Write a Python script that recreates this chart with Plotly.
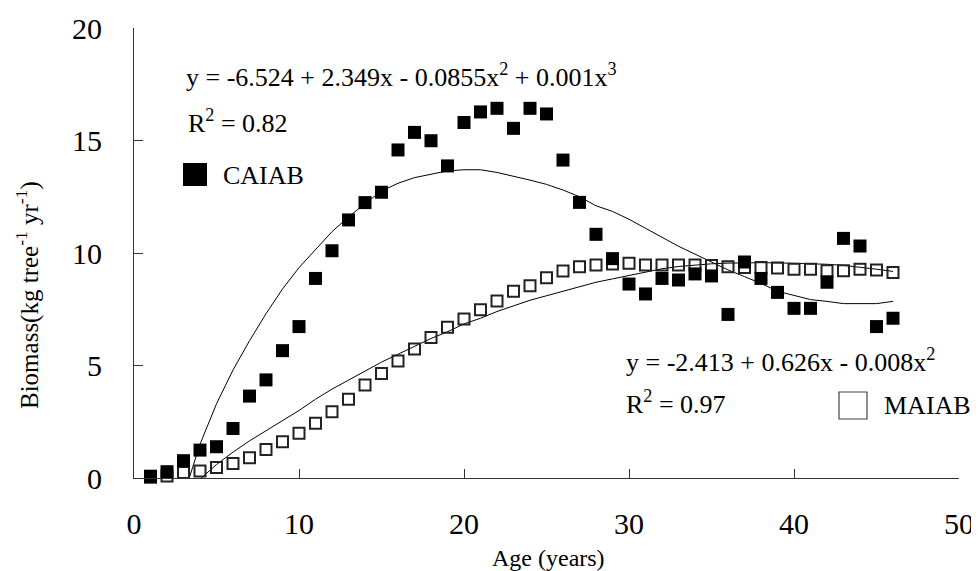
import plotly.graph_objects as go

# ---------------- data ----------------
ages = list(range(1, 47))

caiab = [0.08, 0.28, 0.77, 1.24, 1.39, 2.2, 3.64, 4.36, 5.66, 6.73,
         8.87, 10.1, 11.47, 12.24, 12.7, 14.58, 15.36, 14.99, 13.87, 15.8,
         16.27, 16.43, 15.54, 16.43, 16.18, 14.13, 12.25, 10.83, 9.75, 8.62,
         8.18, 8.87, 8.8, 9.07, 8.98, 7.27, 9.6, 8.87, 8.25, 7.54,
         7.54, 8.7, 10.65, 10.31, 6.73, 7.1]

maiab = [0.03, 0.09, 0.24, 0.31, 0.47, 0.65, 0.9, 1.27, 1.61, 1.99,
         2.43, 2.95, 3.5, 4.13, 4.65, 5.2, 5.73, 6.25, 6.7, 7.07,
         7.48, 7.87, 8.3, 8.55, 8.9, 9.2, 9.39, 9.47, 9.51, 9.54,
         9.47, 9.47, 9.47, 9.47, 9.44, 9.39, 9.36, 9.36, 9.33, 9.28,
         9.28, 9.21, 9.21, 9.28, 9.25, 9.13]

# fitted trend values (values below 0 are clipped by the axis)
caiab_fit = [-4.8, -2.8, -0.8, 1.5, 3.3, 4.8, 6.1, 7.3, 8.4, 9.35,
             10.15, 10.95, 11.6, 12.2, 12.75, 13.1, 13.35, 13.5, 13.65, 13.7,
             13.7, 13.58, 13.42, 13.24, 13.05, 12.8, 12.5, 12.1, 11.85, 11.5,
             11.1, 10.7, 10.3, 9.95, 9.6, 9.25, 8.95, 8.65, 8.3, 8.1,
             7.93, 7.85, 7.75, 7.75, 7.75, 7.85]

maiab_fit = [-1.8, -1.2, -0.6, -0.05, 0.6, 1.15, 1.65, 2.1, 2.55, 3.0,
             3.5, 3.95, 4.35, 4.75, 5.15, 5.5, 5.85, 6.2, 6.5, 6.85,
             7.1, 7.4, 7.65, 7.9, 8.1, 8.3, 8.5, 8.7, 8.85, 9.0,
             9.15, 9.3, 9.4, 9.47, 9.52, 9.55, 9.57, 9.57, 9.56, 9.55,
             9.53, 9.5, 9.45, 9.38, 9.28, 9.18]

x_ticks = [0, 10, 20, 30, 40, 50]
y_ticks = [0, 5, 10, 15, 20]

eq_caiab = "y = -6.524 + 2.349x - 0.0855x<sup>2</sup> + 0.001x<sup>3</sup>"
r2_caiab = "R<sup>2</sup> = 0.82"
eq_maiab = "y = -2.413 + 0.626x - 0.008x<sup>2</sup>"
r2_maiab = "R<sup>2</sup> = 0.97"

FONT = "Liberation Serif, Times New Roman, serif"

fig = go.Figure()

fig.add_trace(go.Scatter(x=ages, y=caiab_fit, mode="lines",
                         line=dict(color="black", width=1), showlegend=False,
                         hoverinfo="skip"))
fig.add_trace(go.Scatter(x=ages, y=maiab_fit, mode="lines",
                         line=dict(color="black", width=1), showlegend=False,
                         hoverinfo="skip"))
fig.add_trace(go.Scatter(x=ages, y=maiab, mode="markers", name="MAIAB",
                         marker=dict(symbol="square-open", size=11,
                                     color="#222", line=dict(width=2, color="#222")),
                         cliponaxis=False, showlegend=False))
fig.add_trace(go.Scatter(x=ages, y=caiab, mode="markers", name="CAIAB",
                         marker=dict(symbol="square", size=13, color="black"),
                         cliponaxis=False, showlegend=False))

# page has an 8px body margin; figure is sized/placed to compensate
OFF = 8
W, H = 979 - OFF, 571 - OFF
PLOT_L, PLOT_R, PLOT_T, PLOT_B = 134, 959, 28, 478   # page pixels of plot area
L, T = PLOT_L - OFF, PLOT_T - OFF
R = W - (PLOT_R - OFF)
B = H - (PLOT_B - OFF)
PW, PH = PLOT_R - PLOT_L, PLOT_B - PLOT_T


def px(X):
    return (X - PLOT_L) / PW


def py(Y):
    return (PLOT_B - Y) / PH


ann_font = dict(family=FONT, size=26, color="black")
annotations = [
    dict(text=eq_caiab, x=px(184), y=py(75), xanchor="left", yanchor="middle"),
    dict(text=r2_caiab, x=px(186), y=py(121), xanchor="left", yanchor="middle"),
    dict(text="CAIAB", x=px(221), y=py(175), xanchor="left", yanchor="middle"),
    dict(text=eq_maiab, x=px(624), y=py(360), xanchor="left", yanchor="middle"),
    dict(text=r2_maiab, x=px(624), y=py(402), xanchor="left", yanchor="middle"),
    dict(text="MAIAB", x=px(882), y=py(405), xanchor="left", yanchor="middle"),
    dict(text="Age (years)", x=px(548), y=py(558), xanchor="center", yanchor="middle",
         font=dict(family=FONT, size=24, color="black")),
    dict(text="Biomass(kg tree<sup>-1</sup> yr<sup>-1</sup>)", x=px(28), y=py(295),
         xanchor="center", yanchor="middle", textangle=-90,
         font=dict(family=FONT, size=25, color="black")),
]
for a in annotations:
    a.setdefault("font", ann_font)
    a.update(xref="paper", yref="paper", showarrow=False)

shapes = [
    dict(type="rect", xref="paper", yref="paper",
         x0=px(183), x1=px(207), y0=py(186), y1=py(163),
         fillcolor="black", line=dict(color="black", width=0)),
    dict(type="rect", xref="paper", yref="paper",
         x0=px(839), x1=px(867), y0=py(419), y1=py(392),
         fillcolor="rgba(0,0,0,0)", line=dict(color="#444", width=1.2)),
]

fig.update_layout(
    width=W, height=H,
    margin=dict(l=L, r=R, t=T, b=B, pad=0, autoexpand=False),
    paper_bgcolor="white", plot_bgcolor="white",
    font=dict(family=FONT, color="black"),
    annotations=annotations, shapes=shapes,
    showlegend=False,
)
fig.update_xaxes(range=[0, 50], tickvals=x_ticks, ticktext=[str(v) for v in x_ticks],
                 showgrid=False, zeroline=False, showline=True, linecolor="#333",
                 linewidth=1, ticks="inside", ticklen=9, tickcolor="#333",
                 tickfont=dict(family=FONT, size=30, color="black"),
                 ticklabelstandoff=19)
fig.update_yaxes(range=[0, 20], tickvals=y_ticks, ticktext=[str(v) for v in y_ticks],
                 showgrid=False, zeroline=False, showline=True, linecolor="#333",
                 linewidth=1, ticks="inside", ticklen=9, tickcolor="#333",
                 tickfont=dict(family=FONT, size=30, color="black"),
                 ticklabelstandoff=25)

fig.write_html("out.html")
